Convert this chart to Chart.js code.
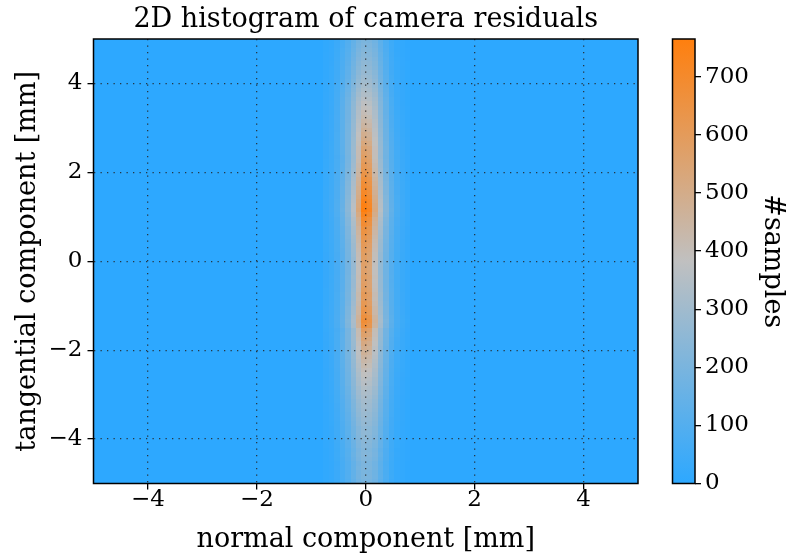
<!DOCTYPE html>
<html>
<head>
<meta charset="utf-8">
<script src="https://cdn.jsdelivr.net/npm/chart.js@4/dist/chart.umd.min.js"></script>
<style>
  html, body { margin: 0; padding: 0; background: #ffffff; }
  #wrap { position: relative; width: 788px; height: 558px; }
  #main { position: absolute; left: 0; top: 0; }
  #cbar { position: absolute; left: 640px; top: 0; }
</style>
</head>
<body>
<div id="wrap">
  <canvas id="main" width="788" height="558"></canvas>
  <canvas id="cbar" width="148" height="558"></canvas>
</div>
<script>
// ---- histogram data -------------------------------------------------------
const titleText = '2D histogram of camera residuals';
const xLabel = 'normal component [mm]';
const yLabel = 'tangential component [mm]';
const cbarLabel = '#samples';

const xRange = [-5, 5];
const yRange = [-5, 5];
const xTicks = [-4, -2, 0, 2, 4];
const xTickLabels = ['\u22124', '\u22122', '0', '2', '4'];
const yTicks = [-4, -2, 0, 2, 4];
const yTickLabels = ['\u22124', '\u22122', '0', '2', '4'];
const cbarTicks = [0, 100, 200, 300, 400, 500, 600, 700];
const cbarTickLabels = ['0', '100', '200', '300', '400', '500', '600', '700'];
const countMax = 765;

// bin layout: 0.1 mm bins; stored columns start at x = -0.78, rows at y = -5
const binWidthX = 0.1;
const binWidthY = 0.1;
const firstBinX = -0.78;
const firstBinY = -5;

// counts per bin, one row per y bin (bottom to top), 16 columns each;
// every bin outside the stored block is empty
const counts = [
  [10,18,35,62,92,133,172,195,189,166,117,74,39,20,12,6],
  [10,18,37,65,96,139,180,204,198,173,122,78,41,20,12,6],
  [10,18,36,64,94,136,176,200,194,170,120,76,40,20,12,6],
  [11,19,38,68,100,144,187,212,206,180,127,81,42,21,13,6],
  [10,19,37,67,98,141,183,208,202,177,125,79,42,21,12,6],
  [11,20,40,70,103,150,194,220,213,187,132,84,44,22,13,7],
  [11,21,41,73,107,155,201,228,221,194,137,87,46,23,14,7],
  [11,20,40,72,105,152,197,224,217,190,134,85,45,22,13,7],
  [12,21,42,76,111,160,208,236,229,201,142,90,47,24,14,7],
  [12,22,44,77,114,165,213,242,235,206,145,92,48,24,15,7],
  [13,23,45,80,118,170,220,250,243,213,150,95,50,25,15,8],
  [13,23,46,83,121,175,227,258,250,219,155,98,52,26,15,8],
  [13,23,46,82,120,174,225,256,248,218,154,97,51,26,15,8],
  [13,24,48,86,126,182,236,268,260,228,161,102,54,27,16,8],
  [14,25,50,88,130,188,243,276,268,235,166,105,55,28,17,8],
  [14,26,51,92,134,194,252,286,277,243,172,109,57,29,17,9],
  [15,26,53,94,138,200,259,294,285,250,176,112,59,29,18,9],
  [15,27,54,97,142,205,266,302,293,257,181,115,60,30,18,9],
  [16,28,56,99,146,211,273,310,301,264,186,118,62,31,19,9],
  [16,29,58,103,151,219,283,322,312,274,193,122,64,32,19,10],
  [17,30,60,107,157,227,294,334,324,284,200,127,67,33,20,10],
  [17,31,62,110,162,234,303,344,334,292,206,131,69,34,21,10],
  [18,32,64,114,168,243,315,358,347,304,215,136,72,36,21,11],
  [18,33,65,115,169,245,319,368,357,308,218,138,73,37,22,11],
  [19,34,66,117,173,251,329,384,371,318,224,142,76,38,23,12],
  [19,34,67,118,176,256,338,400,386,326,230,146,78,40,24,12],
  [20,36,69,120,179,262,347,418,403,336,236,150,82,42,25,13],
  [20,36,69,122,182,266,356,434,418,344,241,153,84,43,26,14],
  [21,37,70,123,185,270,365,452,435,353,247,157,87,45,27,14],
  [21,38,71,123,187,274,373,470,451,361,253,161,89,47,28,16],
  [22,39,72,124,189,278,383,492,472,370,259,165,93,49,30,16],
  [22,40,72,124,191,282,392,515,493,380,265,168,96,52,31,17],
  [23,40,72,124,192,285,401,540,516,389,271,172,100,54,32,18],
  [23,41,72,122,192,287,410,566,539,398,276,176,104,57,34,19],
  [24,41,71,118,189,284,414,592,562,403,278,178,107,59,36,21],
  [26,46,79,132,211,317,462,660,627,449,310,198,119,66,40,23],
  [27,47,81,135,216,324,473,676,642,460,318,203,122,68,41,24],
  [27,46,80,133,212,319,465,664,631,451,312,199,120,66,40,23],
  [26,45,77,128,205,307,448,640,608,435,301,192,115,64,38,22],
  [25,44,76,126,202,302,441,630,598,428,296,189,113,63,38,22],
  [24,43,73,122,196,294,428,612,581,416,288,184,110,61,37,21],
  [24,42,72,120,191,287,419,598,568,407,281,179,108,60,36,21],
  [24,42,72,121,193,290,423,604,574,411,284,181,109,60,36,21],
  [24,41,71,118,188,282,412,588,559,400,276,176,106,59,35,21],
  [23,41,70,116,186,278,406,580,551,394,273,174,104,58,35,20],
  [23,40,69,115,184,276,402,574,545,390,270,172,103,57,34,20],
  [23,41,70,116,186,279,407,582,553,396,274,175,105,58,35,20],
  [23,40,68,114,182,274,399,570,542,388,268,171,103,57,34,20],
  [23,40,68,113,181,272,396,566,538,385,266,170,102,57,34,20],
  [23,40,69,114,183,275,400,572,543,389,269,172,103,57,34,20],
  [23,40,69,116,185,277,405,578,549,393,272,173,104,58,35,20],
  [23,41,70,117,187,280,409,584,555,397,274,175,105,58,35,20],
  [24,42,72,119,191,286,417,596,566,405,280,179,107,60,36,21],
  [24,42,72,121,193,290,423,604,574,411,284,181,109,60,36,21],
  [25,43,74,124,198,297,433,618,587,420,290,185,111,62,37,22],
  [25,44,76,126,202,302,441,630,598,428,296,189,113,63,38,22],
  [26,45,78,130,207,311,454,648,616,441,305,194,117,65,39,23],
  [27,46,80,133,212,319,465,664,631,451,312,199,120,66,40,23],
  [27,48,82,137,220,329,480,686,652,466,322,206,123,69,41,24],
  [28,49,84,140,225,337,491,702,667,477,330,211,126,70,42,25],
  [29,51,88,147,235,353,514,735,698,500,345,220,132,74,44,26],
  [31,54,92,153,245,367,535,765,727,520,360,230,138,76,46,27],
  [30,53,90,150,241,361,526,752,714,511,353,226,135,75,45,26],
  [30,52,89,148,237,355,518,740,703,503,348,222,133,74,44,26],
  [29,51,87,145,232,348,508,726,690,494,341,218,131,73,44,25],
  [28,50,85,142,227,340,496,708,673,481,333,212,127,71,42,25],
  [28,48,83,138,221,331,483,690,656,469,324,207,124,69,41,24],
  [27,47,81,135,216,324,473,676,642,460,318,203,122,68,41,24],
  [26,46,79,132,212,318,463,662,629,450,311,199,119,66,40,23],
  [26,45,77,128,205,307,448,640,608,435,301,192,115,64,38,22],
  [25,44,75,125,200,300,438,626,595,426,294,188,113,63,38,22],
  [24,43,73,122,195,293,427,610,580,415,287,183,110,61,37,21],
  [24,42,72,119,191,286,417,596,566,405,280,179,107,60,36,21],
  [23,41,70,117,187,280,409,584,555,397,274,175,105,58,35,20],
  [23,41,72,122,192,287,410,566,539,398,276,176,104,57,34,19],
  [23,41,73,123,192,286,404,548,523,392,272,174,101,55,33,19],
  [23,40,72,124,191,284,396,526,503,384,267,170,98,53,32,18],
  [22,39,72,124,190,281,389,506,484,376,263,167,95,51,30,17],
  [22,39,72,124,189,278,382,490,470,370,258,164,93,49,29,16],
  [21,38,71,123,187,274,373,470,451,361,253,161,89,47,28,16],
  [21,37,70,123,185,270,365,452,435,353,247,157,87,45,27,14],
  [20,36,69,122,182,266,357,436,420,345,242,153,84,44,26,14],
  [20,36,69,120,179,262,347,418,403,336,236,150,82,42,25,13],
  [19,35,68,120,178,259,341,404,390,330,232,147,79,40,24,13],
  [19,34,67,119,176,255,334,390,377,323,227,144,77,39,23,12],
  [18,33,66,117,172,249,324,374,362,313,221,140,74,37,22,11],
  [18,32,64,114,168,243,315,358,347,304,215,136,72,36,21,11],
  [17,31,62,109,161,233,301,342,332,291,205,130,68,34,21,10],
  [16,30,59,105,154,223,289,328,318,279,197,125,66,33,20,10],
  [16,28,57,100,148,214,276,314,305,267,188,119,63,31,19,9],
  [15,27,54,96,141,204,264,300,291,255,180,114,60,30,18,9],
  [14,26,52,92,135,196,253,288,279,245,173,109,58,29,17,9],
  [14,25,50,88,130,188,243,276,268,235,166,105,55,28,17,8],
  [13,24,48,84,124,180,232,264,256,224,158,100,53,26,16,8],
  [13,23,46,81,119,173,224,254,246,216,152,97,51,25,15,8],
  [12,22,44,78,115,166,215,244,237,207,146,93,49,24,15,7],
  [12,21,42,75,110,159,206,234,227,199,140,89,47,23,14,7],
  [11,20,40,72,105,152,197,224,217,190,134,85,45,22,13,7],
  [11,19,39,68,101,146,188,214,208,182,128,81,43,21,13,6],
  [10,18,37,65,96,139,180,204,198,173,122,78,41,20,12,6]
];

// ---- styling ---------------------------------------------------------------
const FONT = "'DejaVu Serif', 'Liberation Serif', serif";
const LABEL_SIZE = 27;
const TICK_SIZE = 23;
const cmapLow = [45, 168, 255];
const cmapMid = [192, 192, 192];
const cmapHigh = [255, 127, 14];

function mix(a, b, t) {
  return [0, 1, 2].map(k => Math.round(a[k] + (b[k] - a[k]) * t));
}
function colorFor(v) {
  const t = Math.max(0, Math.min(1, v / countMax));
  const c = t < 0.5 ? mix(cmapLow, cmapMid, t * 2) : mix(cmapMid, cmapHigh, (t - 0.5) * 2);
  return 'rgb(' + c.join(',') + ')';
}

// draws the 2D histogram cells through the chart's x / y scales
const heatmapPlugin = {
  id: 'heatmap',
  beforeDatasetsDraw(chart) {
    const { ctx, scales: { x, y } } = chart;
    ctx.save();
    // empty bins across the whole histogram range
    const l = Math.round(x.getPixelForValue(xRange[0]));
    const r = Math.round(x.getPixelForValue(xRange[1]));
    const t = Math.round(y.getPixelForValue(yRange[1]));
    const b = Math.round(y.getPixelForValue(yRange[0]));
    ctx.fillStyle = colorFor(0);
    ctx.fillRect(l, t, r - l, b - t);
    counts.forEach((row, j) => {
      const y0 = firstBinY + j * binWidthY;
      const pyB = Math.round(y.getPixelForValue(y0));
      const pyT = Math.round(y.getPixelForValue(y0 + binWidthY));
      row.forEach((v, i) => {
        const x0 = firstBinX + i * binWidthX;
        const pxL = Math.round(x.getPixelForValue(x0));
        const pxR = Math.round(x.getPixelForValue(x0 + binWidthX));
        ctx.fillStyle = colorFor(v);
        ctx.fillRect(pxL, pyT, pxR - pxL, pyB - pyT);
      });
    });
    ctx.restore();
  }
};

// black frame around the plotting area plus the centred title
const framePlugin = {
  id: 'frame',
  afterDraw(chart) {
    const { ctx, chartArea: a } = chart;
    ctx.save();
    ctx.strokeStyle = '#000';
    ctx.lineWidth = 1.5;
    ctx.strokeRect(a.left, a.top, a.right - a.left, a.bottom - a.top);
    ctx.fillStyle = '#000';
    ctx.font = LABEL_SIZE + 'px ' + FONT;
    ctx.textAlign = 'center';
    ctx.textBaseline = 'alphabetic';
    ctx.fillText(titleText, (a.left + a.right) / 2, 27);
    ctx.restore();
  }
};

const gridStyle = {
  color: 'rgba(35,35,35,0.85)',
  lineWidth: 1.3,
  z: 1,
  tickColor: '#000',
  tickLength: 6,
  tickWidth: 1.3
};
// border line itself is hidden (the frame plugin draws the box); its dash styles the grid
const borderStyle = { display: false, dash: [1.3, 5.2] };
const tickFont = { family: FONT, size: TICK_SIZE };
const labelFont = { family: FONT, size: LABEL_SIZE, lineHeight: 1.2 };

new Chart(document.getElementById('main'), {
  type: 'scatter',
  data: { datasets: [{ data: [], pointRadius: 0 }] },
  options: {
    responsive: false,
    animation: false,
    events: [],
    layout: { padding: { left: 0, right: 150, top: 39, bottom: 0 } },
    plugins: { legend: { display: false }, tooltip: { enabled: false }, title: { display: false } },
    scales: {
      x: {
        type: 'linear', min: xRange[0], max: xRange[1],
        afterBuildTicks: s => { s.ticks = xTicks.map(v => ({ value: v })); },
        afterFit: s => { s.height = 74.5; },
        grid: gridStyle,
        border: borderStyle,
        ticks: { color: '#000', font: tickFont, padding: -3, maxRotation: 0,
                 callback: (v, i) => xTickLabels[i] },
        title: { display: true, text: xLabel, color: '#000', font: labelFont,
                 padding: { top: 0, bottom: 2 } }
      },
      y: {
        type: 'linear', min: yRange[0], max: yRange[1],
        afterBuildTicks: s => { s.ticks = yTicks.map(v => ({ value: v })); },
        afterFit: s => { s.width = 93.5; },
        grid: gridStyle,
        border: borderStyle,
        ticks: { color: '#000', font: tickFont, padding: 5,
                 callback: (v, i) => yTickLabels[i] },
        title: { display: true, text: yLabel, color: '#000', font: labelFont,
                 padding: { top: 12, bottom: 0 } }
      }
    }
  },
  plugins: [heatmapPlugin, framePlugin]
});

// colour bar: gradient strip laid against its own count scale
const colorbarPlugin = {
  id: 'colorbar',
  beforeDatasetsDraw(chart) {
    const { ctx, chartArea: a, scales: { y } } = chart;
    const p0 = y.getPixelForValue(0);
    const p1 = y.getPixelForValue(countMax);
    const g = ctx.createLinearGradient(0, p0, 0, p1);
    g.addColorStop(0, colorFor(0));
    g.addColorStop(0.5, colorFor(countMax / 2));
    g.addColorStop(1, colorFor(countMax));
    ctx.save();
    ctx.fillStyle = g;
    ctx.fillRect(a.left, p1, a.right - a.left, p0 - p1);
    ctx.strokeStyle = '#000';
    ctx.lineWidth = 1.5;
    ctx.strokeRect(a.left, p1, a.right - a.left, p0 - p1);
    ctx.restore();
  }
};

new Chart(document.getElementById('cbar'), {
  type: 'scatter',
  data: { datasets: [{ data: [], pointRadius: 0 }] },
  options: {
    responsive: false,
    animation: false,
    events: [],
    layout: { padding: { left: 32.5, right: 0, top: 39, bottom: 74.5 } },
    plugins: { legend: { display: false }, tooltip: { enabled: false } },
    scales: {
      x: { display: false, min: 0, max: 1 },
      y: {
        position: 'right', min: 0, max: countMax,
        afterBuildTicks: s => { s.ticks = cbarTicks.map(v => ({ value: v })); },
        afterFit: s => { s.width = 93; },
        grid: { drawOnChartArea: false, color: '#000', tickLength: 6, lineWidth: 1.3 },
        border: { display: false },
        ticks: { color: '#000', font: tickFont, padding: 4,
                 callback: (v, i) => cbarTickLabels[i] },
        title: { display: true, text: cbarLabel, color: '#000', font: labelFont,
                 padding: { top: 0, bottom: 0 } }
      }
    }
  },
  plugins: [colorbarPlugin]
});
</script>
</body>
</html>
